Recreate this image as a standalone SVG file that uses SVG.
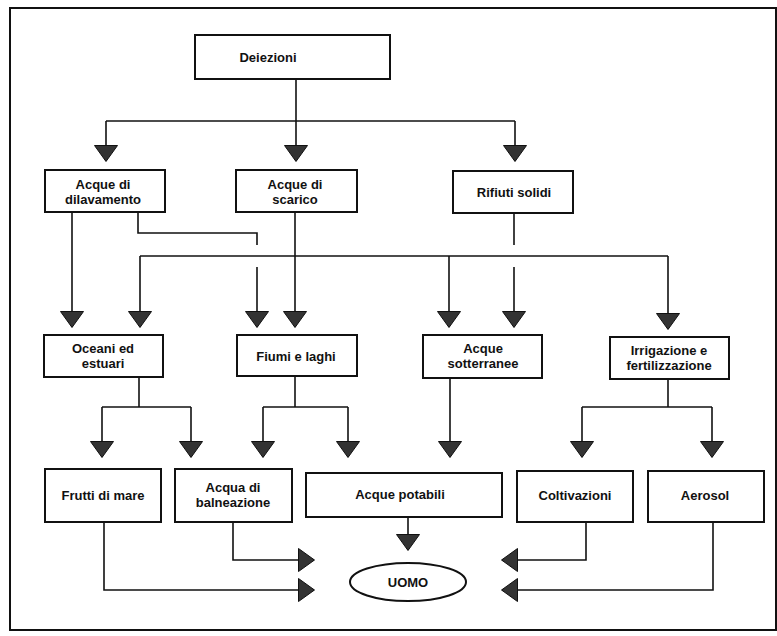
<svg xmlns="http://www.w3.org/2000/svg" width="777" height="636" viewBox="0 0 777 636">
<style>
.box{fill:#fff;stroke:#111;stroke-width:2}
.t{font-family:"Liberation Sans",Arial,sans-serif;font-weight:bold;font-size:13px;fill:#111;text-anchor:middle}
.c path{fill:none;stroke:#111;stroke-width:1.6}
.c path.a{marker-end:url(#ah)}
</style>
<defs>
<marker id="ah" markerUnits="userSpaceOnUse" viewBox="0 0 17 24" markerWidth="17" markerHeight="24" refX="16" refY="12" orient="auto">
<path d="M0.5,0.5 L16.5,12 L0.5,23.5 Z" fill="#333" stroke="#111" stroke-width="1"/>
</marker>
</defs>
<rect x="0" y="0" width="777" height="636" fill="#fff"/>
<rect x="10" y="8" width="766" height="622" fill="none" stroke="#111" stroke-width="2"/>
<g class="c" id="connectors">
<path d="M296,79 V121"/>
<path d="M106,121 H515"/>
<path class="a" d="M106,121 V161"/>
<path class="a" d="M296,121 V161"/>
<path class="a" d="M515,121 V161"/>
<path class="a" d="M72,212 V327"/>
<path d="M138,212 V233 H257 V245"/>
<path class="a" d="M257,267 V327"/>
<path class="a" d="M295,212 V327"/>
<path d="M140,256 H668"/>
<path class="a" d="M140,256 V327"/>
<path class="a" d="M449,256 V327"/>
<path class="a" d="M668,256 V329"/>
<path d="M514,213 V245"/>
<path class="a" d="M514,267 V327"/>
<path d="M139,377 V407"/>
<path d="M102,407 H191"/>
<path class="a" d="M102,407 V457"/>
<path class="a" d="M191,407 V457"/>
<path d="M295,376 V407"/>
<path d="M263,407 H348"/>
<path class="a" d="M263,407 V457"/>
<path class="a" d="M348,407 V457"/>
<path class="a" d="M450,378 V457"/>
<path d="M668,379 V407"/>
<path d="M582,407 H712"/>
<path class="a" d="M582,407 V457"/>
<path class="a" d="M712,407 V457"/>
<path class="a" d="M408,517 V550"/>
<path class="a" d="M233,522 V560 H314"/>
<path class="a" d="M104,522 V590 H314"/>
<path class="a" d="M586,522 V560 H502"/>
<path class="a" d="M713,522 V590 H502"/>
</g>
<g id="deiezioni"><rect class="box" x="195" y="35" width="195" height="44"/><text class="t" x="268" y="62">Deiezioni</text></g>
<g id="dilavamento"><rect class="box" x="45" y="170" width="120" height="42"/><text class="t" x="103" y="189">Acque di</text><text class="t" x="103" y="204">dilavamento</text></g>
<g id="scarico"><rect class="box" x="236" y="170" width="121" height="42"/><text class="t" x="295" y="189">Acque di</text><text class="t" x="295" y="204">scarico</text></g>
<g id="rifiuti"><rect class="box" x="453" y="171" width="120" height="42"/><text class="t" x="514" y="197">Rifiuti solidi</text></g>
<g id="oceani"><rect class="box" x="44" y="335" width="119" height="42"/><text class="t" x="103" y="353">Oceani ed</text><text class="t" x="103" y="368">estuari</text></g>
<g id="fiumi"><rect class="box" x="237" y="335" width="120" height="41"/><text class="t" x="296" y="361">Fiumi e laghi</text></g>
<g id="sotterranee"><rect class="box" x="423" y="335" width="119" height="43"/><text class="t" x="483" y="353">Acque</text><text class="t" x="483" y="368">sotterranee</text></g>
<g id="irrigazione"><rect class="box" x="610" y="337" width="119" height="42"/><text class="t" x="669" y="355">Irrigazione e</text><text class="t" x="669" y="370">fertilizzazione</text></g>
<g id="frutti"><rect class="box" x="45" y="469" width="116" height="53"/><text class="t" x="103" y="500">Frutti di mare</text></g>
<g id="balneazione"><rect class="box" x="175" y="469" width="117" height="53"/><text class="t" x="233" y="492">Acqua di</text><text class="t" x="233" y="507">balneazione</text></g>
<g id="potabili"><rect class="box" x="306" y="473" width="196" height="44"/><text class="t" x="400" y="499">Acque potabili</text></g>
<g id="coltivazioni"><rect class="box" x="517" y="471" width="116" height="51"/><text class="t" x="575" y="500">Coltivazioni</text></g>
<g id="aerosol"><rect class="box" x="648" y="471" width="116" height="51"/><text class="t" x="705" y="500">Aerosol</text></g>
<g id="uomo"><ellipse class="box" cx="408" cy="582" rx="58" ry="19"/><text class="t" x="408" y="587">UOMO</text></g>
</svg>
